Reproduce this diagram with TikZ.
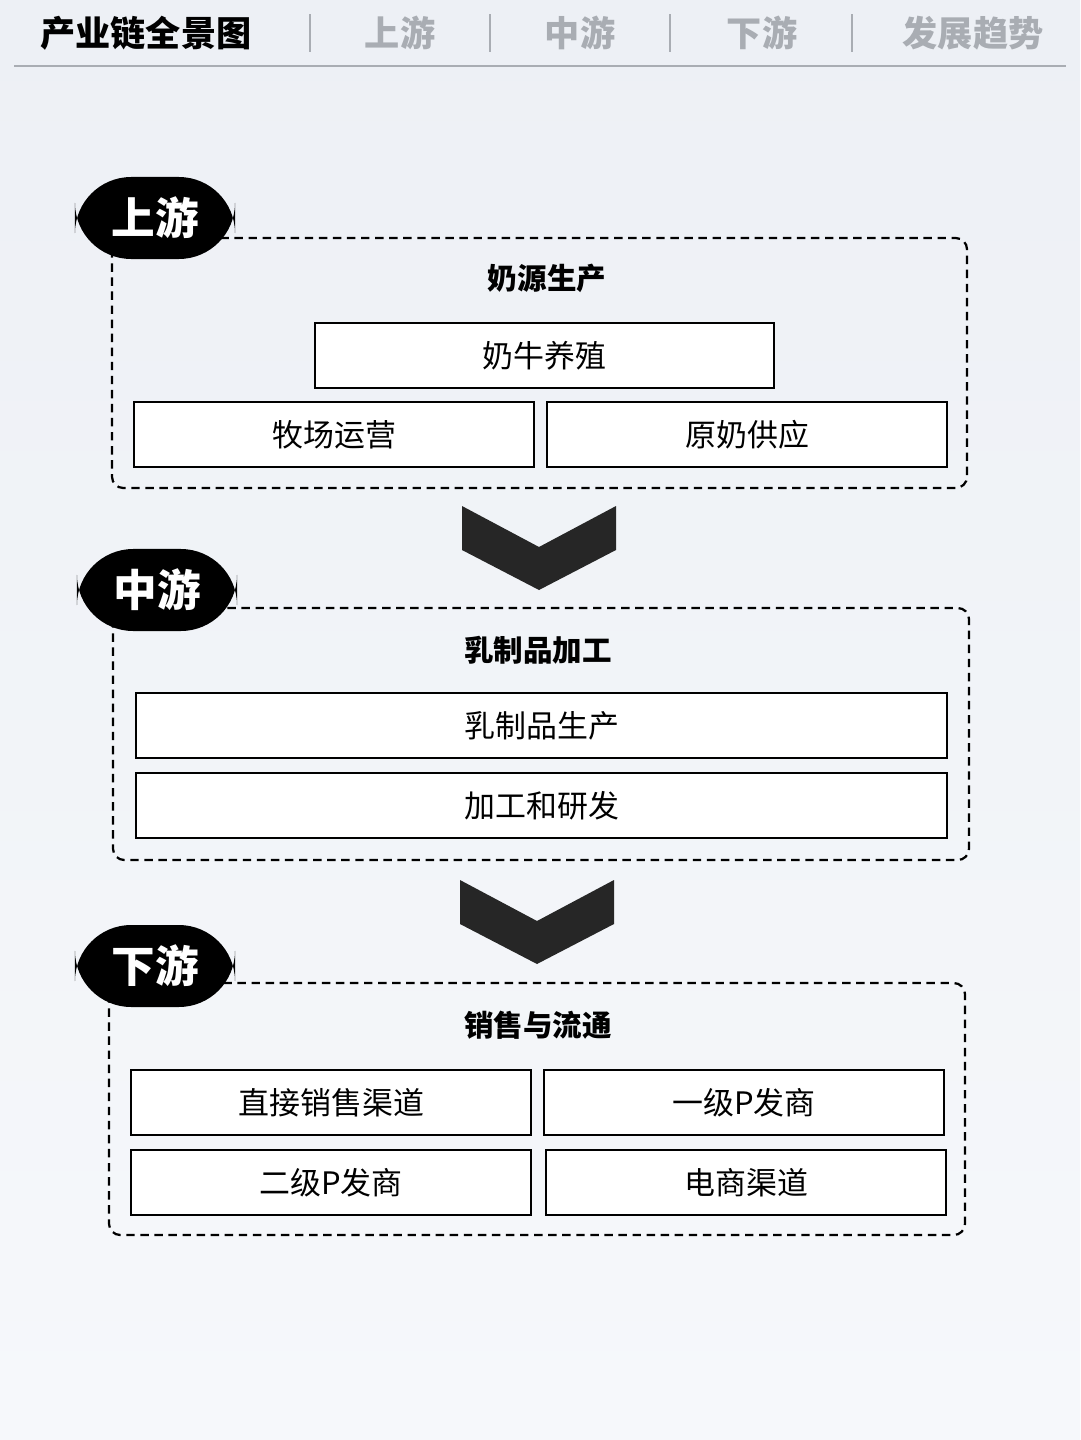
\documentclass[tikz,border=0pt]{standalone}
\usepackage{fontspec}
\setmainfont{Noto Sans CJK SC}
\usetikzlibrary{positioning}
\definecolor{bgtop}{HTML}{EDF0F5}
\definecolor{bgbot}{HTML}{F6F8FB}
\definecolor{tabgray}{HTML}{A9ADB3}
\tikzset{
  item/.style={draw=black,line width=1.6pt,fill=white,anchor=north west,inner sep=0pt,font=\fontsize{22}{24}\selectfont},
  stage/.style={draw=black,line width=1.6pt,dashed,dash pattern=on 6pt off 4pt,rounded corners=8pt},
  pill/.style={fill=black,text=white,rounded corners=40pt,minimum width=4cm,minimum height=2.05cm,font=\bfseries\fontsize{31}{33}\selectfont},
  title/.style={font=\bfseries\fontsize{21}{24}\selectfont},
  tab/.style={text=tabgray,font=\bfseries\fontsize{25}{28}\selectfont},
  chevron/.style={fill=black!85}
}
\begin{document}
\begin{tikzpicture}[x=0.025cm,y=-0.025cm]
\useasboundingbox (0,0) rectangle (1080,1440);
\shade[top color=bgtop,bottom color=bgbot] (0,0) rectangle (1080,1440);
% header
\node[font=\bfseries\fontsize{25}{28}\selectfont] (h0) at (146,33) {产业链全景图};
\node[tab] (h1) at (400,33) {上游};
\node[tab] (h2) at (580,33) {中游};
\node[tab] (h3) at (762,33) {下游};
\node[tab] (h4) at (973,33) {发展趋势};
\foreach \x in {310,490,670,852}
  \draw[tabgray,line width=1pt] (\x,14) -- (\x,52);
\draw[tabgray,line width=1pt] (14,66) -- (1066,66);

% upstream
\draw[stage] (112,238) rectangle (967,488);
\node[pill] (up) at (155,218) {上游};
\node[title] (upt) at (547,278) {奶源生产};
\node[item,minimum width=11.47cm,minimum height=1.62cm] (cow) at (314,322) {奶牛养殖};
\node[item,minimum width=10cm,minimum height=1.62cm] (farm) at (133,401) {牧场运营};
\node[item,minimum width=10cm,minimum height=1.62cm] (milk) at (546,401) {原奶供应};
\fill[chevron] (462,506) -- (539,547) -- (616,506) -- (616,550) -- (539,590) -- (462,550) -- cycle;

% midstream
\draw[stage] (113,608) rectangle (969,860);
\node[pill] (mid) at (157,590) {中游};
\node[title] (midt) at (538,650) {乳制品加工};
\node[item,minimum width=20.27cm,minimum height=1.62cm] (prod) at (135,692) {乳制品生产};
\node[item,minimum width=20.27cm,minimum height=1.62cm] (rd) at (135,772) {加工和研发};
\fill[chevron] (460,880) -- (537,921) -- (614,880) -- (614,924) -- (537,964) -- (460,924) -- cycle;

% downstream
\draw[stage] (109,983) rectangle (965,1235);
\node[pill] (down) at (155,966) {下游};
\node[title] (downt) at (538,1025) {销售与流通};
\node[item,minimum width=10cm,minimum height=1.62cm] (direct) at (130,1069) {直接销售渠道};
\node[item,minimum width=10cm,minimum height=1.62cm] (dist1) at (543,1069) {一级P发商};
\node[item,minimum width=10cm,minimum height=1.62cm] (dist2) at (130,1149) {二级P发商};
\node[item,minimum width=10cm,minimum height=1.62cm] (ecom) at (545,1149) {电商渠道};
\end{tikzpicture}
\end{document}
